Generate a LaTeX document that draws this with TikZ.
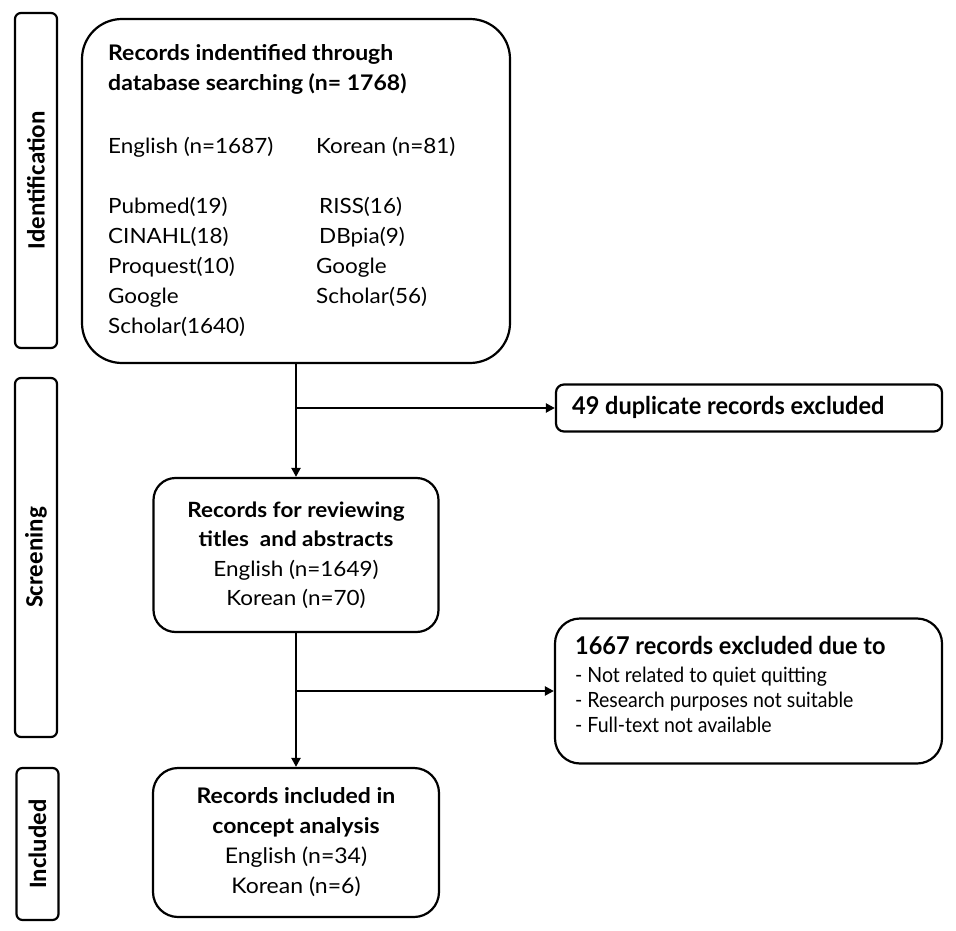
\documentclass[tikz,border=0pt]{standalone}
\usepackage{fontspec}
\setmainfont[FakeStretch=1.07]{Lato}
\newfontfamily\narrowfont[FakeStretch=0.93]{Lato}
\newfontfamily\narrowbold[FakeStretch=0.96]{Lato Bold}
\newfontfamily\sidefont{Carlito}
\usetikzlibrary{arrows.meta}
\tikzset{
  box/.style={draw, line width=2.2pt, rounded corners=#1, inner sep=0pt},
  side/.style={draw, line width=2.2pt, rounded corners=6pt, inner sep=0pt, minimum width=42pt},
  sidetext/.style={rotate=90, font=\sidefont\bfseries\fontsize{25pt}{28pt}\selectfont, inner sep=0pt},
  arr/.style={line width=2.2pt, -{Triangle[length=9pt,width=9pt]}},
  txt/.style={inner sep=0pt, align=left, anchor=north west},
}
\begin{document}
\begin{tikzpicture}[x=1pt,y=-1pt]
\useasboundingbox (0,0) rectangle (956,931);

% side labels
\node[side, minimum height=335pt] (s1) at (36,180.5) {};
\node[sidetext] (s1t) at (s1.center) {Identification};
\node[side, minimum height=359pt] (s2) at (36,557.5) {};
\node[sidetext] (s2t) at (s2.center) {Screening};
\node[side, minimum height=152pt] (s3) at (37.5,844) {};
\node[sidetext] (s3t) at (s3.center) {Included};

% box 1
\node[box=40pt, minimum width=428pt, minimum height=344pt] (b1) at (296,191) {};
\node[txt, font=\bfseries\fontsize{21.5pt}{30pt}\selectfont] (b1t) at (108,44) {Records indentified through\\database searching (n= 1768)};
\node[txt, font=\fontsize{21pt}{30pt}\selectfont] (b1l) at (108,137) {English (n=1687)\\[30pt]Pubmed(19)\\CINAHL(18)\\Proquest(10)\\Google\\Scholar(1640)};
\node[txt, font=\fontsize{21pt}{30pt}\selectfont] (b1r) at (316,137) {Korean (n=81)\\[30pt]\hspace{3pt}RISS(16)\\\hspace{3pt}DBpia(9)\\Google\\Scholar(56)};

% box 2
\node[box=22pt, minimum width=285pt, minimum height=154pt, align=center, font=\fontsize{21pt}{29.5pt}\selectfont] (b2) at (296,555)
  {\textbf{Records for reviewing}\\\textbf{titles\ \ and abstracts}\\English (n=1649)\\Korean (n=70)};

% box 3
\node[box=8pt, minimum width=386pt, minimum height=47pt] (b3) at (749,408) {};
\node[inner sep=0pt, anchor=west, font=\narrowbold\fontsize{24.5pt}{26pt}\selectfont] (b3t) at (572,407) {49 duplicate records excluded};

% box 5
\node[box=25pt, minimum width=387pt, minimum height=145pt] (b5) at (748.5,691) {};
\node[txt, font=\narrowbold\fontsize{24.5pt}{26pt}\selectfont] (b5t) at (575,636) {1667 records excluded due to};
\node[txt, font=\narrowfont\fontsize{21pt}{25pt}\selectfont] (b5l) at (575,667) {- Not related to quiet quitting\\- Research purposes not suitable\\- Full-text not available};

% box 4
\node[box=25pt, minimum width=286pt, minimum height=149pt, align=center, font=\fontsize{21.5pt}{30pt}\selectfont] (b4) at (296,842.5)
  {\textbf{Records included in}\\\textbf{concept analysis}\\English (n=34)\\Korean (n=6)};

% connectors
\coordinate (j1) at (296,408);
\coordinate (j2) at (296,691);
\draw[arr] (b1.south) -- (b2.north);
\draw[arr] (j1) -- (b3.west);
\draw[arr] (b2.south) -- (b4.north);
\draw[arr] (j2) -- (b5.west);
\end{tikzpicture}
\end{document}
